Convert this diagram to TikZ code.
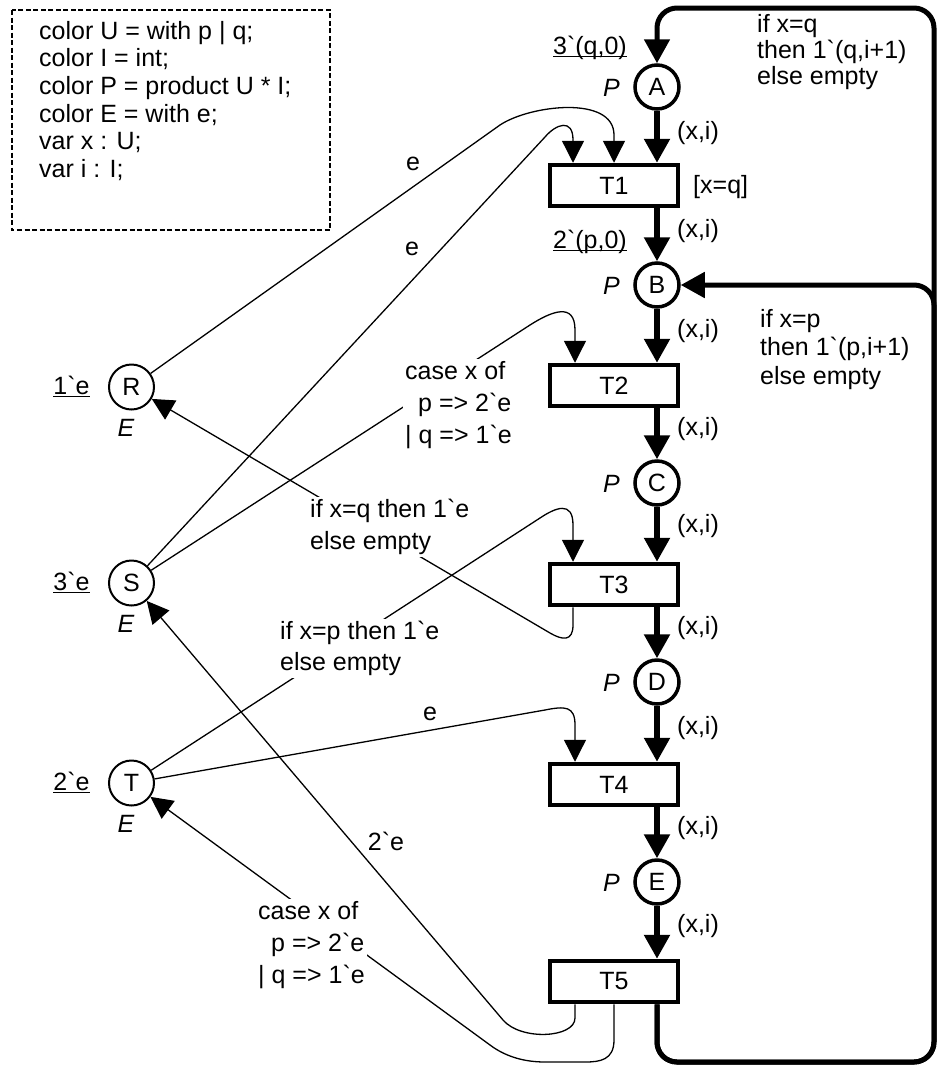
\documentclass[tikz,border=0pt]{standalone}
\usepackage{fontspec}
\setmainfont{Liberation Sans}[Ligatures=TeXOff]
\usetikzlibrary{arrows.meta}
\newsavebox\ulbox
\newcommand\ulmark[1]{\sbox\ulbox{#1}\rlap{\rule[-3pt]{\wd\ulbox}{1.2pt}}\usebox\ulbox}
\begin{document}
\begin{tikzpicture}[x=1pt,y=-1pt,
  every node/.style={font=\fontsize{25}{31}\selectfont, inner sep=0pt},
  place/.style={circle, draw, line width=3.5pt, minimum size=44pt},
  eplace/.style={circle, draw, line width=2pt, minimum size=45pt},
  trans/.style={rectangle, draw, line width=4.5pt, minimum width=128pt, minimum height=41pt},
  spine/.style={line width=5.5pt, -{Triangle[width=25pt,length=24pt]}},
  bigloop/.style={line width=5pt, rounded corners=20pt, -{Triangle[width=25pt,length=24pt]}},
  arc/.style={line width=1.3pt, -{Triangle[width=22pt,length=22pt]}},
  lab/.style={align=left, anchor=north west},
  covlab/.style={align=left, anchor=north west, fill=white, inner sep=2pt},
  sl/.style={anchor=base west},
  ptype/.style={anchor=base east, font=\fontsize{25}{31}\selectfont\itshape},
  etype/.style={anchor=base, font=\fontsize{25}{31}\selectfont\itshape},
  mk/.style={anchor=base}]
\useasboundingbox (0,0) rectangle (938,1069);

% declarations
\draw[line width=1.2pt, dash pattern=on 5pt off 2.5pt] (12,10) rectangle (330,230);
\node[lab, font=\fontsize{25}{27.6}\selectfont] (decl) at (39,21)
 {color U = with p | q;\\color I = int;\\color P = product U * I;\\color E = with e;\\var x : U;\\var i : I;};

% places and transitions
\node[place] (A) at (657,87) {A};
\node[place] (B) at (657,285) {B};
\node[place] (C) at (657,483) {C};
\node[place] (D) at (657,682) {D};
\node[place] (E) at (657,882) {E};
\node[trans] (T1) at (614,185.5) {T1};
\node[trans] (T2) at (614,385.5) {T2};
\node[trans] (T3) at (614,584.5) {T3};
\node[trans] (T4) at (614,784.5) {T4};
\node[trans] (T5) at (614,981.5) {T5};
\node[eplace] (R) at (131.5,387) {R};
\node[eplace] (S) at (131.5,583) {S};
\node[eplace] (T) at (131.5,783) {T};

% types and markings
\node[ptype] (pA) at (620,96) {P};
\node[ptype] (pB) at (620,294) {P};
\node[ptype] (pC) at (620,492) {P};
\node[ptype] (pD) at (620,691) {P};
\node[ptype] (pE) at (620,891) {P};
\node[etype] (eR) at (126,436) {E};
\node[etype] (eS) at (126,632) {E};
\node[etype] (eT) at (126,832) {E};
\node[mk] (mA) at (590,54) {\ulmark{3`(q,0)}};
\node[mk] (mB) at (590,248) {\ulmark{2`(p,0)}};
\node[mk] (mR) at (71.5,394) {\ulmark{1`e}};
\node[mk] (mS) at (71.5,590) {\ulmark{3`e}};
\node[mk] (mT) at (71.5,790) {\ulmark{2`e}};
\node[sl] (g1) at (693,193) {[x=q]};

% spine arcs
\draw[spine] (A) -- (A |- T1.north);
\draw[spine] (T1.south -| A) -- (B);
\draw[spine] (B) -- (B |- T2.north);
\draw[spine] (T2.south -| A) -- (C);
\draw[spine] (C) -- (C |- T3.north);
\draw[spine] (T3.south -| A) -- (D);
\draw[spine] (D) -- (D |- T4.north);
\draw[spine] (T4.south -| A) -- (E);
\draw[spine] (E) -- (E |- T5.north);
\node[sl] (x1) at (677,139) {(x,i)};
\node[sl] (x2) at (677,237) {(x,i)};
\node[sl] (x3) at (677,337) {(x,i)};
\node[sl] (x4) at (677,435) {(x,i)};
\node[sl] (x5) at (677,532) {(x,i)};
\node[sl] (x6) at (677,634) {(x,i)};
\node[sl] (x7) at (677,734) {(x,i)};
\node[sl] (x8) at (677,834) {(x,i)};
\node[sl] (x9) at (677,932) {(x,i)};

% big loops from T5
\coordinate (br) at (934,1062);
\coordinate (tr) at (934,8);
\draw[bigloop] (T5.south -| A) |- (br) -- (tr) -| (A.north);
\draw[bigloop] (T5.south -| A) |- (br) -- (br |- B) -- (B.east);
\node[lab, font=\fontsize{25}{26}\selectfont] (lq) at (757,14) {if x=q\\then 1`(q,i+1)\\else empty};
\node[lab, font=\fontsize{25}{28.5}\selectfont] (lp) at (760,309) {if x=p\\then 1`(p,i+1)\\else empty};

% thin arcs
\draw[arc] (R) -- (500,125) .. controls (530,105) and (614,95) .. (614,135) -- (T1.north);
\draw[arc] (S) -- (545,137) .. controls (556,124) and (573,118) .. (573,140) -- ([xshift=-41pt]T1.north);
\draw[arc] (S) -- (530,325) .. controls (552,311) and (575,302) .. (575,330) -- ([xshift=-39pt]T2.north);
\draw[arc] ([xshift=-41pt]T3.south) -- (573,625) .. controls (573,642) and (562,640) .. (550,633) -- (R);
\draw[arc] (T) -- (540,518) .. controls (555,508) and (573,500) .. (573,525) -- ([xshift=-41pt]T3.north);
\draw[arc] (T) -- (545,710) .. controls (565,706) and (575,706) .. (575,725) -- ([xshift=-39pt]T4.north);
\draw[arc] ([xshift=-39pt]T5.south) -- (575,1018) .. controls (575,1038) and (521,1041) .. (503,1020) -- (S);
\draw[arc] (T5.south) -- (614,1040) .. controls (614,1060) and (600,1062) .. (585,1062) -- (545,1062) .. controls (525,1062) and (506,1057) .. (490,1045) -- (T);

% arc inscriptions
\node[mk] (e1) at (413,170) {e};
\node[mk] (e2) at (412,255) {e};
\node[mk] (e3) at (430,720) {e};
\node[mk] (e4) at (386,850) {2`e};
\node[covlab, font=\fontsize{25}{32}\selectfont] (c2) at (403,359) {case x of\\\hspace*{13pt}p => 2`e\\| q => 1`e};
\node[covlab, font=\fontsize{25}{32}\selectfont] (c3) at (308,497) {if x=q then 1`e\\else empty};
\node[covlab, font=\fontsize{25}{31}\selectfont] (c4) at (278,619) {if x=p then 1`e\\else empty};
\node[covlab, font=\fontsize{25}{32}\selectfont] (c5) at (256,899) {case x of\\\hspace*{13pt}p => 2`e\\| q => 1`e};
\end{tikzpicture}
\end{document}
